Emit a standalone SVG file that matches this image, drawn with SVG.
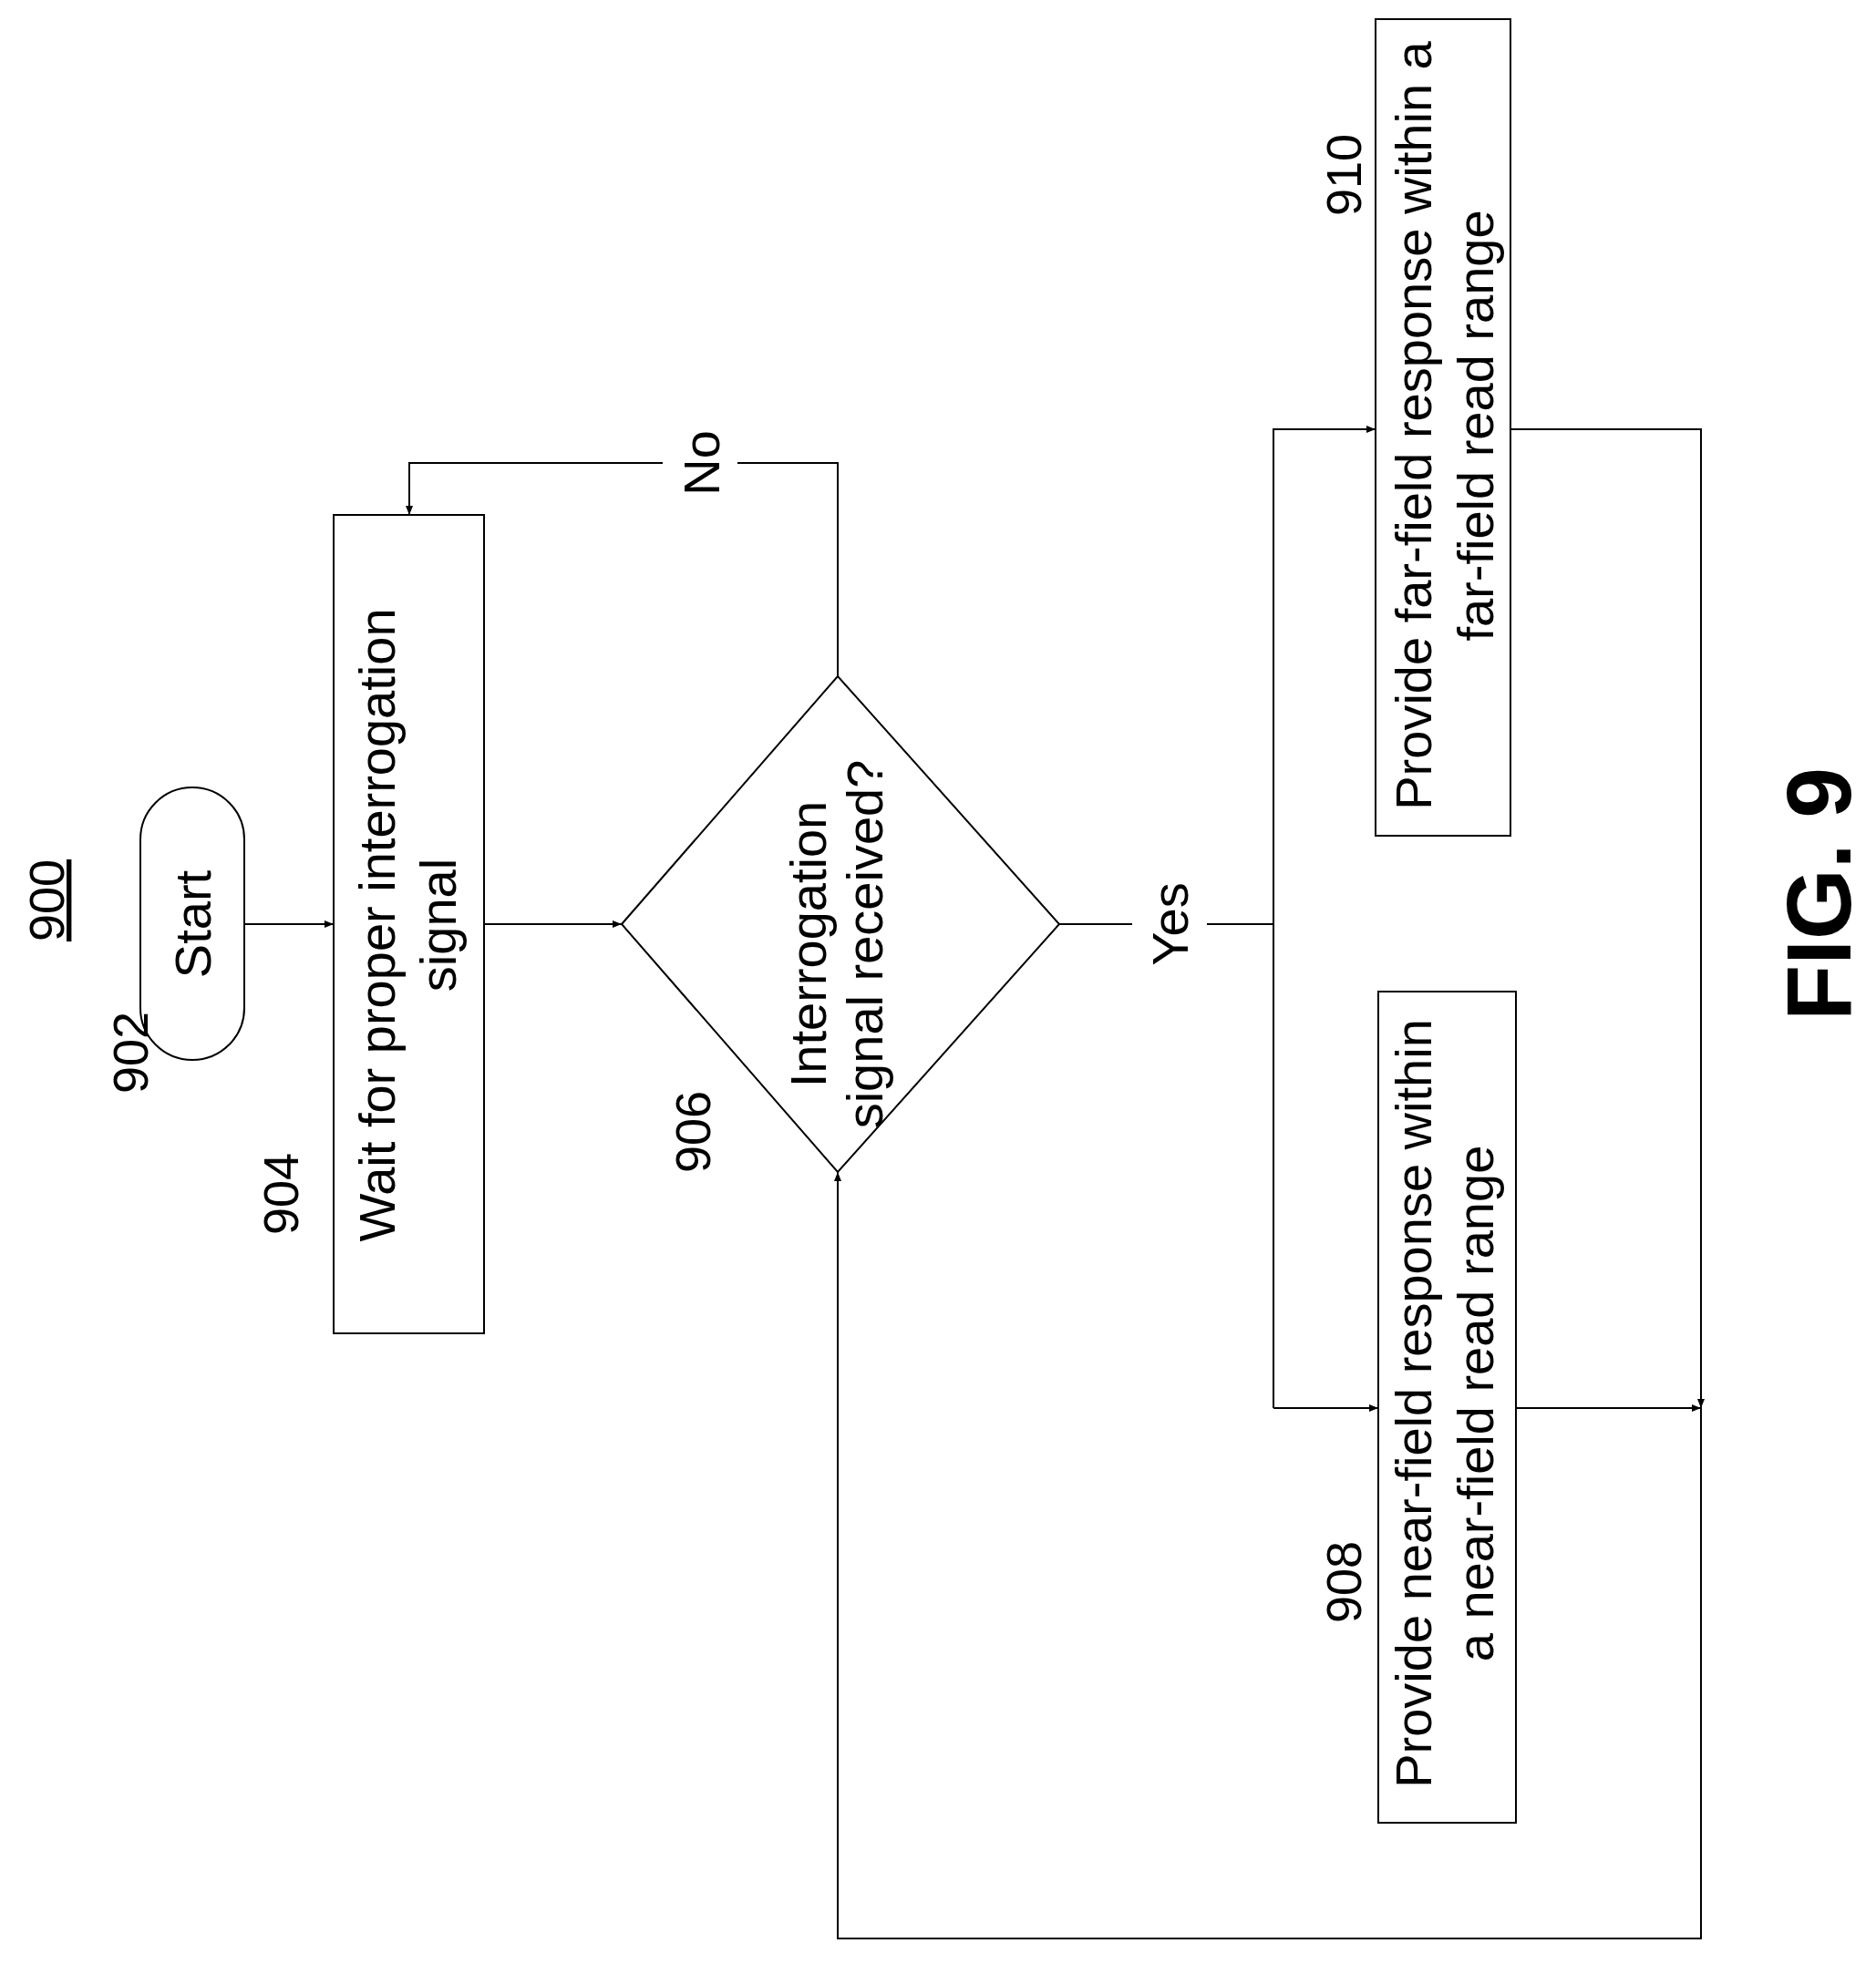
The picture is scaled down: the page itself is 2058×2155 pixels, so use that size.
<svg xmlns="http://www.w3.org/2000/svg" width="2058" height="2155" viewBox="0 0 2058 2155">
<style>
text{font-family:"Liberation Sans",Arial,sans-serif;fill:#000;text-anchor:middle}
.t{font-size:56px}.l{font-size:54px}
.s{fill:#fff;stroke:#000;stroke-width:2}
.c{fill:none;stroke:#000;stroke-width:2}
</style>
<defs><marker id="a" viewBox="0 0 10 10" refX="10" refY="5" markerWidth="10" markerHeight="10" markerUnits="userSpaceOnUse" orient="auto"><path d="M0,1L10,5L0,9z" fill="#000"/></marker></defs>
<rect width="2058" height="2155" fill="#fff"/>
<g id="label900"><text class="l" transform="rotate(-90 70 988)" x="70" y="988" text-decoration="underline">900</text></g>
<g id="n902"><rect class="s" x="154" y="864" width="114" height="299" rx="57"/><text class="t" transform="rotate(-90 231 1014)" x="231" y="1014">Start</text><text class="l" transform="rotate(-90 162 1110)" x="162" y="1110" style="text-anchor:end">902</text></g>
<g id="n904"><rect class="s" x="366" y="565" width="165" height="898"/><text class="t" transform="rotate(-90 433 1015)" x="433" y="1015">Wait for proper interrogation</text><text class="t" transform="rotate(-90 500 1015)" x="500" y="1015">signal</text><text class="l" transform="rotate(-90 327 1310)" x="327" y="1310">904</text></g>
<g id="n906"><path class="s" d="M682,1014L919,742L1162,1014L919,1286z"/><text class="t" transform="rotate(-90 906 1036)" x="906" y="1036">Interrogation</text><text class="t" transform="rotate(-90 968 1036)" x="968" y="1036">signal received?</text><text class="l" transform="rotate(-90 779 1242)" x="779" y="1242">906</text></g>
<g id="n910"><rect class="s" x="1509" y="21" width="148" height="896"/><text class="t" transform="rotate(-90 1570 467)" x="1570" y="467">Provide far-field response within a</text><text class="t" transform="rotate(-90 1638 467)" x="1638" y="467">far-field read range</text><text class="l" transform="rotate(-90 1493 192)" x="1493" y="192">910</text></g>
<g id="n908"><rect class="s" x="1512" y="1088" width="151" height="912"/><text class="t" transform="rotate(-90 1570 1540)" x="1570" y="1540">Provide near-field response within</text><text class="t" transform="rotate(-90 1638 1540)" x="1638" y="1540">a near-field read range</text><text class="l" transform="rotate(-90 1493 1736)" x="1493" y="1736">908</text></g>
<g id="connectors">
<path class="c" marker-end="url(#a)" d="M268,1014H366"/>
<path class="c" marker-end="url(#a)" d="M531,1014H682"/>
<path class="c" marker-end="url(#a)" d="M919,742V508H809M727,508H449V565"/>
<path class="c" d="M1162,1014H1242M1324,1014H1397"/>
<path class="c" marker-end="url(#a)" d="M1397,1545V471H1509"/>
<path class="c" marker-end="url(#a)" d="M1397,1545H1512"/>
<path class="c" marker-end="url(#a)" d="M1657,471H1866V1545"/>
<path class="c" marker-end="url(#a)" d="M1663,1545H1866"/>
<path class="c" marker-end="url(#a)" d="M1866,1545V2127H919V1286"/>
<text class="t" transform="rotate(-90 789 508)" x="789" y="508">No</text>
<text class="t" transform="rotate(-90 1303 1014)" x="1303" y="1014">Yes</text>
</g>
<g id="fig"><text transform="rotate(-90 2030 981)" x="2030" y="981" style="font-size:100px;font-weight:bold">FIG. 9</text></g>
</svg>
